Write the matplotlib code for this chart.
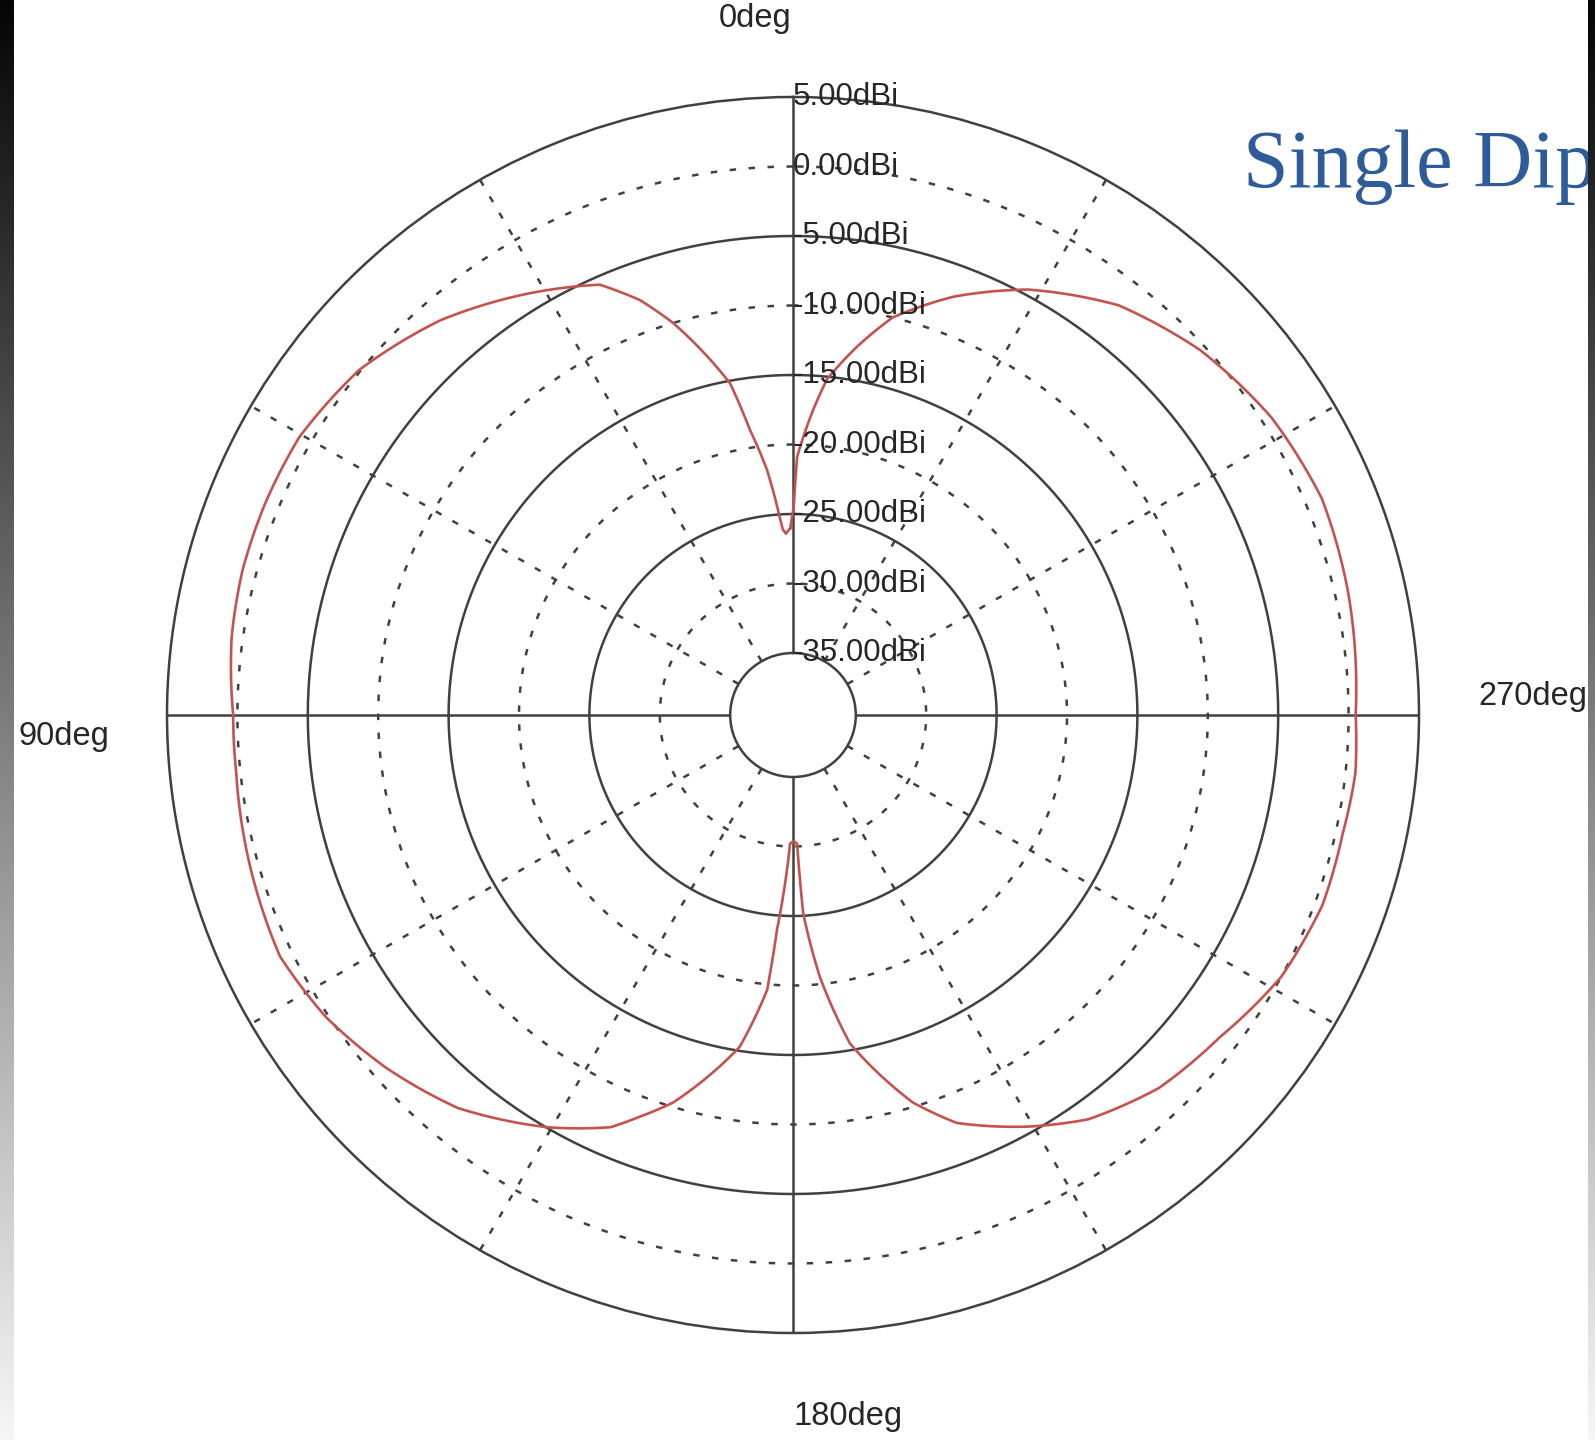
import numpy as np
import matplotlib
matplotlib.use("Agg")
import matplotlib.pyplot as plt

# Azimuth cut of the dipole: angle (deg, counter-clockwise from 0deg at the top) and gain (dBi)
angles_deg = [0.8, 2.2, 3.1, 3.8, 6.0, 8.5, 10.6, 16.8, 20.0, 23.9,
              31.3, 41.4, 51.1, 60.3, 67.9, 75.0, 82.0, 90.0, 96.0, 105.6,
              115.5, 123.2, 131.3, 139.9, 149.7, 156.4, 159.4, 163.0, 171.0, 174.7,
              175.8, 176.9, 178.7, 180.3, 181.8, 182.4, 182.9, 185.8, 189.7, 197.0,
              201.6, 209.3, 215.8, 224.1, 232.6, 241.5, 250.0, 257.6, 264.0, 270.0,
              274.5, 282.9, 292.5, 302.2, 312.2, 321.9, 331.4, 339.3, 346.1, 350.3,
              354.3, 356.3, 359.1, 359.8]
gain_dbi = [-26.0, -26.4, -26.1, -25.2, -21.7, -18.7, -15.2, -10.0, -7.7, -5.6,
            -3.9, -1.6, 0.1, 0.9, 1.0, 1.0, 0.8, 0.3, 0.3, 0.6,
            0.9, 0.2, -1.0, -2.5, -5.1, -7.1, -8.6, -10.3, -15.3, -19.6,
            -24.0, -26.4, -30.2, -30.4, -30.2, -27.6, -25.2, -20.5, -15.5, -10.3,
            -7.9, -5.5, -3.6, -2.1, -1.3, 0.0, 0.55, 0.5, 0.7, 0.5,
            0.65, 0.95, 1.2, 0.7, -0.4, -2.0, -4.6, -7.3, -10.0, -12.6,
            -15.2, -17.5, -20.9, -24.5]

# Radial rings (dBi) and angular spokes (deg)
ring_levels = [-35, -30, -25, -20, -15, -10, -5, 0, 5]
dashed_rings = [-30, -20, -10, 0]
solid_rings = [-25, -15, -5]
spoke_angles = [0, 30, 60, 90, 120, 150, 180, 210, 240, 270, 300, 330]
direction_labels = ["0deg", "90deg", "180deg", "270deg"]
title_text = "Single Dipole"

W, H = 1595, 1440
fig = plt.figure(figsize=(W / 100, H / 100), dpi=100)
fig.patch.set_facecolor("white")

GRID = "#404040"
TEXT = "#262626"

# Polar axes (centre at 793,715 px; slightly wider than tall)
cx, cy, rx, ry = 793, 715, 626, 618
ax = fig.add_axes([(cx - rx) / W, (H - cy - ry) / H, 2 * rx / W, 2 * ry / H],
                  projection="polar", zorder=1)
ax.set_aspect("auto")
ax.set_theta_zero_location("N")
ax.set_theta_direction(1)
rmin, rmax = ring_levels[0], ring_levels[-1]
ax.set_ylim(rmin, rmax)
ax.set_rorigin(rmin - (62 / 618) / (1 - 62 / 618) * (rmax - rmin))
ax.set_xticks([])
ax.set_yticks([])
ax.grid(False)
for sp in ax.spines.values():
    sp.set_color(GRID)
    sp.set_linewidth(1.8)

dash = (0, (2.6, 5.0))
full = np.linspace(0, 2 * np.pi, 721)
for r in solid_rings:
    ax.plot(full, np.full_like(full, r), color=GRID, lw=1.8, zorder=2)
for r in dashed_rings:
    ax.plot(full, np.full_like(full, r), color=GRID, lw=1.8, ls=dash, zorder=2)
for a in spoke_angles:
    t = np.deg2rad(a)
    ls = "-" if a % 90 == 0 else dash
    ax.plot([t, t], [rmin, rmax], color=GRID, lw=1.8, ls=ls, zorder=2)

# Gain pattern, drawn with curved (polar-interpolated) segments
th = np.deg2rad(np.array(angles_deg + [angles_deg[0] + 360]))
g = np.array(gain_dbi + [gain_dbi[0]])
pattern, = ax.plot(th, g, color="#c4534f", lw=1.9, zorder=4, clip_on=False)
pattern.get_path()._interpolation_steps = 40

# Radial level labels along the 0deg axis
for r in ring_levels:
    ax.annotate(f"{r:.2f}dBi", xy=(0, r), xytext=(0, 2.5), textcoords="offset points",
                ha="left", va="center_baseline", fontsize=22.5,
                family="Liberation Sans", color=TEXT, zorder=5,
                annotation_clip=False)

# Direction labels
label_pos = [(755, 27), (64, 745), (848, 1425), (1533, 705)]
for lab, (px, py) in zip(direction_labels, label_pos):
    fig.text(px / W, 1 - py / H, lab, ha="center", va="baseline", fontsize=23.5,
             family="Liberation Sans", color=TEXT, zorder=3)

# Title
fig.text(1243 / W, 1 - 187 / H, title_text, ha="left", va="baseline",
         fontsize=59, family="Liberation Serif", color="#2e5b9a", zorder=3)

# Shaded side bars
grad = np.linspace(0.02, 0.96, 256)[:, None]
for x0, wpx in [(0, 14), (1588, 7)]:
    bar = fig.add_axes([x0 / W, 0, wpx / W, 1], zorder=10)
    bar.imshow(grad, cmap="gray", vmin=0, vmax=1, aspect="auto",
               interpolation="bilinear")
    bar.set_axis_off()

fig.savefig("out.png", dpi=100, facecolor="white")
